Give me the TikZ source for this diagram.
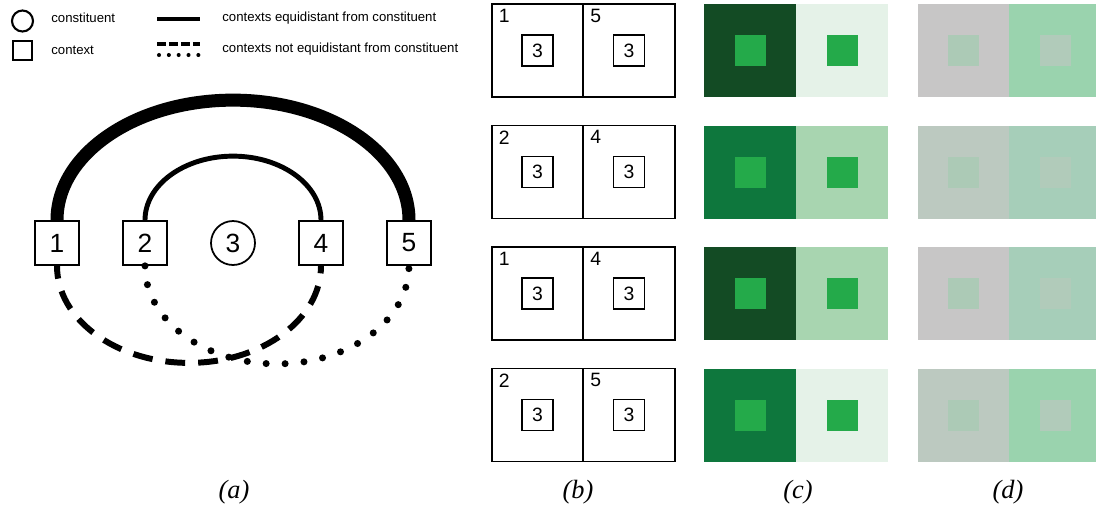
\documentclass[tikz,border=0pt]{standalone}
\usepackage{fontspec}
\setmainfont{Liberation Sans}
\newfontfamily\serifcap{Liberation Serif}
\definecolor{myDarkGreen}{RGB}{19, 75, 36}
\definecolor{myMidGreen}{RGB}{14, 119, 61}
\definecolor{myLightGreen}{RGB}{168, 213, 176}
\definecolor{myPaleGreen}{RGB}{229, 242, 232}
\definecolor{myCoreGreen}{RGB}{36, 170, 74}
\definecolor{myGrey}{RGB}{199, 198, 198}
\definecolor{myGreyGreen}{RGB}{188, 201, 192}
\definecolor{myMint}{RGB}{154, 211, 174}
\definecolor{mySage}{RGB}{166, 206, 185}
\definecolor{myCoreLeft}{RGB}{172, 202, 182}
\definecolor{myCoreRight}{RGB}{177, 203, 186}

\begin{document}
\begin{tikzpicture}[x=0.02cm, y=-0.02cm,
	ctx/.style={draw, line width=1pt, fill=white, minimum size=0.88cm, inner sep=0pt, font=\fontsize{15}{15}\selectfont},
	cst/.style={draw, circle, line width=1pt, minimum size=0.88cm, inner sep=0pt, font=\fontsize{15}{15}\selectfont},
	keytext/.style={anchor=west, inner sep=0pt, font=\fontsize{7.5}{9}\selectfont},
	cell/.style={draw, line width=0.9pt, minimum width=1.83cm, minimum height=1.86cm, inner sep=0pt},
	inbox/.style={draw, line width=0.9pt, minimum size=0.62cm, inner sep=0pt, font=\fontsize{11}{11}\selectfont},
	corner/.style={anchor=north west, inner sep=0pt, xshift=0.15cm, yshift=-0.11cm, font=\fontsize{11}{11}\selectfont},
	patch/.style={minimum width=1.84cm, minimum height=1.86cm, inner sep=0pt},
	core/.style={minimum size=0.62cm, inner sep=0pt},
	caption/.style={font=\serifcap\itshape\fontsize{15}{15}\selectfont}]
			\useasboundingbox (0,0) rectangle (1096,512);

			\draw (22.5,21) node[draw, circle, line width=1.2pt, minimum size=0.42cm, inner sep=0pt] (keyCst) {};
			\draw (22.5,50.5) node[draw, line width=1.2pt, minimum size=0.38cm, inner sep=0pt] (keyCtx) {};
			\draw (51,18) node[keytext] (keyCstTxt) {constituent};
			\draw (51,50) node[keytext] (keyCtxTxt) {context};
			\draw (222,18) node[keytext] (keyEqTxt) {contexts equidistant from constituent};
			\draw (222,49) node[keytext] (keyNeqTxt) {contexts not equidistant from constituent};
			\draw[line width=2pt] (157,19) -- (200,19);
			\draw[line width=1.8pt, dash pattern=on 5pt off 1.8pt] (157,44) -- (200,44);
			\draw[line width=2.3pt, line cap=round, dash pattern=on 0pt off 5.6pt] (159,55) -- (200,55);

			\draw (57,243) node[ctx] (n1) {1};
			\draw (145,243) node[ctx] (n2) {2};
			\draw (233,243) node[cst] (n3) {3};
			\draw (321,243) node[ctx] (n4) {4};
			\draw (409,243) node[ctx] (n5) {5};

			\draw[line width=7.4pt] (n1.north) arc[start angle=180, end angle=360, x radius=176, y radius=120];
			\draw[line width=2.8pt] (n2.north) arc[start angle=180, end angle=360, x radius=88, y radius=64];
			\draw[line width=3.4pt, dash pattern=on 11.3pt off 7.4pt, dash phase=4pt] (n1.south) arc[start angle=180, end angle=0, x radius=132, y radius=97];
			\draw[line width=4pt, line cap=round, dash pattern=on 0pt off 10.8pt] (n2.south) arc[start angle=180, end angle=0, x radius=132, y radius=98];

			\draw (537.5,50.5) node[cell] (bL1) {} node[inbox] (bLi1) {3} (629,50.5) node[cell] (bR1) {} node[inbox] (bRi1) {3};
			\draw (537.5,172) node[cell] (bL2) {} node[inbox] (bLi2) {3} (629,172) node[cell] (bR2) {} node[inbox] (bRi2) {3};
			\draw (537.5,293.5) node[cell] (bL3) {} node[inbox] (bLi3) {3} (629,293.5) node[cell] (bR3) {} node[inbox] (bRi3) {3};
			\draw (537.5,415) node[cell] (bL4) {} node[inbox] (bLi4) {3} (629,415) node[cell] (bR4) {} node[inbox] (bRi4) {3};
			\path (bL1.north west) node[corner] (bLn1) {1} (bR1.north west) node[corner] (bRn1) {5};
			\path (bL2.north west) node[corner] (bLn2) {2} (bR2.north west) node[corner] (bRn2) {4};
			\path (bL3.north west) node[corner] (bLn3) {1} (bR3.north west) node[corner] (bRn3) {4};
			\path (bL4.north west) node[corner] (bLn4) {2} (bR4.north west) node[corner] (bRn4) {5};

			\path (750,50.5) node[patch, fill=myDarkGreen] (cL1) {} node[core, fill=myCoreGreen] (cLi1) {} (842,50.5) node[patch, fill=myPaleGreen] (cR1) {} node[core, fill=myCoreGreen] (cRi1) {};
			\path (750,172) node[patch, fill=myMidGreen] (cL2) {} node[core, fill=myCoreGreen] (cLi2) {} (842,172) node[patch, fill=myLightGreen] (cR2) {} node[core, fill=myCoreGreen] (cRi2) {};
			\path (750,293.5) node[patch, fill=myDarkGreen] (cL3) {} node[core, fill=myCoreGreen] (cLi3) {} (842,293.5) node[patch, fill=myLightGreen] (cR3) {} node[core, fill=myCoreGreen] (cRi3) {};
			\path (750,415) node[patch, fill=myMidGreen] (cL4) {} node[core, fill=myCoreGreen] (cLi4) {} (842,415) node[patch, fill=myPaleGreen] (cR4) {} node[core, fill=myCoreGreen] (cRi4) {};

			\path (963.5,50.5) node[patch, fill=myGrey] (dL1) {} node[core, fill=myCoreLeft] (dLi1) {} (1055,50.5) node[patch, fill=myMint] (dR1) {} node[core, fill=myCoreRight] (dRi1) {};
			\path (963.5,172) node[patch, fill=myGreyGreen] (dL2) {} node[core, fill=myCoreLeft] (dLi2) {} (1055,172) node[patch, fill=mySage] (dR2) {} node[core, fill=myCoreRight] (dRi2) {};
			\path (963.5,293.5) node[patch, fill=myGrey] (dL3) {} node[core, fill=myCoreLeft] (dLi3) {} (1055,293.5) node[patch, fill=mySage] (dR3) {} node[core, fill=myCoreRight] (dRi3) {};
			\path (963.5,415) node[patch, fill=myGreyGreen] (dL4) {} node[core, fill=myCoreLeft] (dLi4) {} (1055,415) node[patch, fill=myMint] (dR4) {} node[core, fill=myCoreRight] (dRi4) {};

			\draw (234,492) node[caption] (capA) {(a)};
			\draw (578,492) node[caption] (capB) {(b)};
			\draw (798,492) node[caption] (capC) {(c)};
			\draw (1008,492) node[caption] (capD) {(d)};
		\end{tikzpicture}
\end{document}
